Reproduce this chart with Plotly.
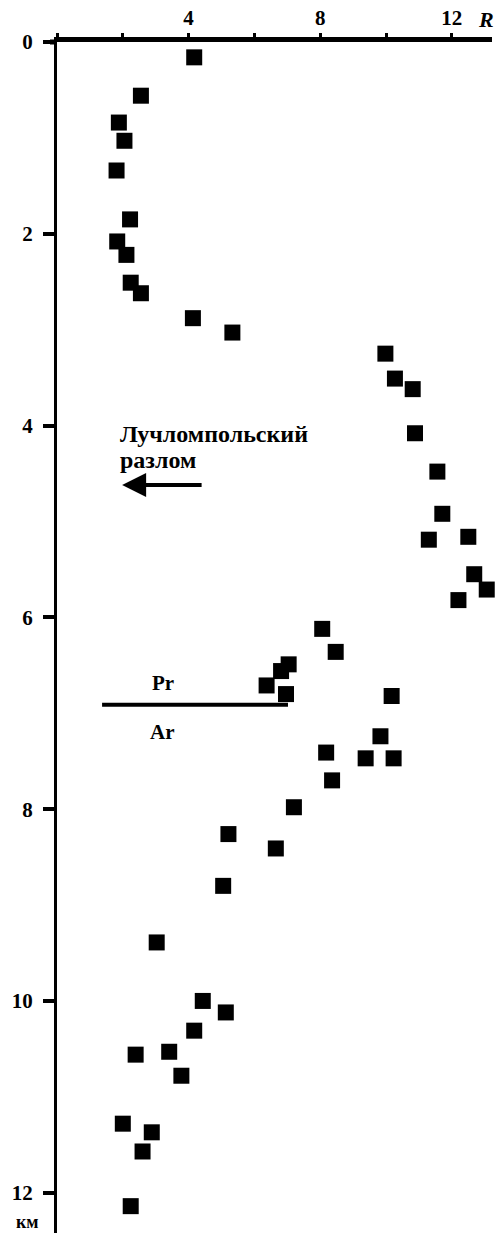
import plotly.graph_objects as go

# Data: R (top axis) vs depth in km (left axis, downward)
r_values = [4.17, 2.55, 1.88, 2.05, 1.81, 2.22, 1.83, 2.11, 2.24, 2.55,
            4.13, 5.33, 9.98, 10.27, 10.81, 10.88, 11.56, 11.71, 11.30, 12.50,
            12.68, 13.06, 12.20, 8.06, 8.47, 7.04, 6.81, 6.37, 6.96, 10.17,
            9.83, 8.18, 9.38, 10.23, 8.36, 7.20, 5.21, 6.65, 5.05, 3.03,
            4.43, 5.13, 4.17, 2.39, 3.41, 3.78, 2.00, 2.88, 2.60, 2.24]
depth_km = [0.16, 0.56, 0.84, 1.03, 1.34, 1.85, 2.08, 2.22, 2.51, 2.62,
            2.88, 3.03, 3.25, 3.51, 3.62, 4.08, 4.48, 4.92, 5.19, 5.16,
            5.55, 5.71, 5.82, 6.12, 6.36, 6.49, 6.56, 6.71, 6.80, 6.82,
            7.24, 7.41, 7.47, 7.47, 7.70, 7.98, 8.26, 8.41, 8.80, 9.39,
            10.00, 10.12, 10.31, 10.56, 10.53, 10.78, 11.28, 11.37, 11.57, 12.14]

x_tick_vals = [0, 2, 4, 6, 8, 10, 12]
x_tick_text = ["", "", "4", "", "8", "", "12"]
y_tick_vals = [0, 2, 4, 6, 8, 10, 12]
y_tick_text = ["0", "2", "4", "6", "8", "10", "12"]

# Pr / Ar boundary line
boundary_r = [1.37, 7.02]
boundary_depth = [6.91, 6.91]

# Fault arrow (head, tail)
fault_head = (1.98, 4.62)
fault_tail = (4.44, 4.62)

serif = "Liberation Serif"

fig = go.Figure()
fig.add_trace(go.Scatter(
    x=boundary_r, y=boundary_depth, mode="lines",
    line=dict(color="black", width=4), hoverinfo="skip", showlegend=False,
))
fig.add_trace(go.Scatter(
    x=r_values, y=depth_km, mode="markers",
    marker=dict(symbol="square", size=16, color="black", line=dict(width=0)),
    cliponaxis=False, showlegend=False,
))

fig.update_layout(
    width=500, height=1233,
    margin=dict(l=57, r=8, t=42, b=0, autoexpand=False),
    paper_bgcolor="white", plot_bgcolor="white",
    showlegend=False,
    xaxis=dict(
        side="top", range=[0, 13.22], showgrid=False, zeroline=False,
        automargin=False,
        showline=True, linewidth=5, linecolor="black",
        ticks="outside", ticklen=4, tickwidth=3, tickcolor="black",
        tickvals=x_tick_vals, ticktext=x_tick_text,
        tickfont=dict(family=serif, size=21, color="black", weight="bold"),
    ),
    yaxis=dict(
        range=[12.42, 0], showgrid=False, zeroline=False,
        automargin=False,
        showline=True, linewidth=3, linecolor="black",
        ticks="outside", ticklen=11, tickwidth=4, tickcolor="black",
        tickvals=y_tick_vals, ticktext=y_tick_text,
        tickfont=dict(family=serif, size=21, color="black", weight="bold"),
        ticklabelstandoff=6,
    ),
)

# small overhang of the top axis to the left of the vertical axis
fig.add_shape(type="line", xref="paper", yref="paper",
              x0=-7 / 435, x1=0, y0=1, y1=1,
              line=dict(color="black", width=5))

bold = dict(family=serif, color="black", weight="bold")

fig.add_annotation(xref="paper", yref="paper", x=(486 - 57) / 435, y=1 + 22 / 1191,
                   text="<i>R</i>", showarrow=False, xanchor="center", yanchor="middle",
                   font=dict(size=22, **bold))
fig.add_annotation(xref="paper", yref="paper", x=(27 - 57) / 435, y=(1233 - 1222) / 1191,
                   text="км", showarrow=False, xanchor="center", yanchor="middle",
                   borderpad=0, font=dict(size=18, **bold))
fig.add_annotation(x=1.85, y=4.09, text="Лучломпольский", showarrow=False,
                   xanchor="left", yanchor="middle", font=dict(size=24, **bold))
fig.add_annotation(x=1.85, y=4.36, text="разлом", showarrow=False,
                   xanchor="left", yanchor="middle", font=dict(size=24, **bold))
fig.add_annotation(x=fault_head[0], y=fault_head[1], ax=fault_tail[0], ay=fault_tail[1],
                   axref="x", ayref="y", text="", showarrow=True,
                   arrowhead=2, arrowsize=1.2, arrowwidth=4, arrowcolor="black")
fig.add_annotation(x=3.22, y=6.68, text="Pr", showarrow=False,
                   xanchor="center", yanchor="middle", font=dict(size=21, **bold))
fig.add_annotation(x=3.22, y=7.20, text="Ar", showarrow=False,
                   xanchor="center", yanchor="middle", font=dict(size=21, **bold))

fig.write_html("out.html", config={"displayModeBar": False},
               post_script="document.body.style.margin='0px';document.body.style.overflow='hidden';")
